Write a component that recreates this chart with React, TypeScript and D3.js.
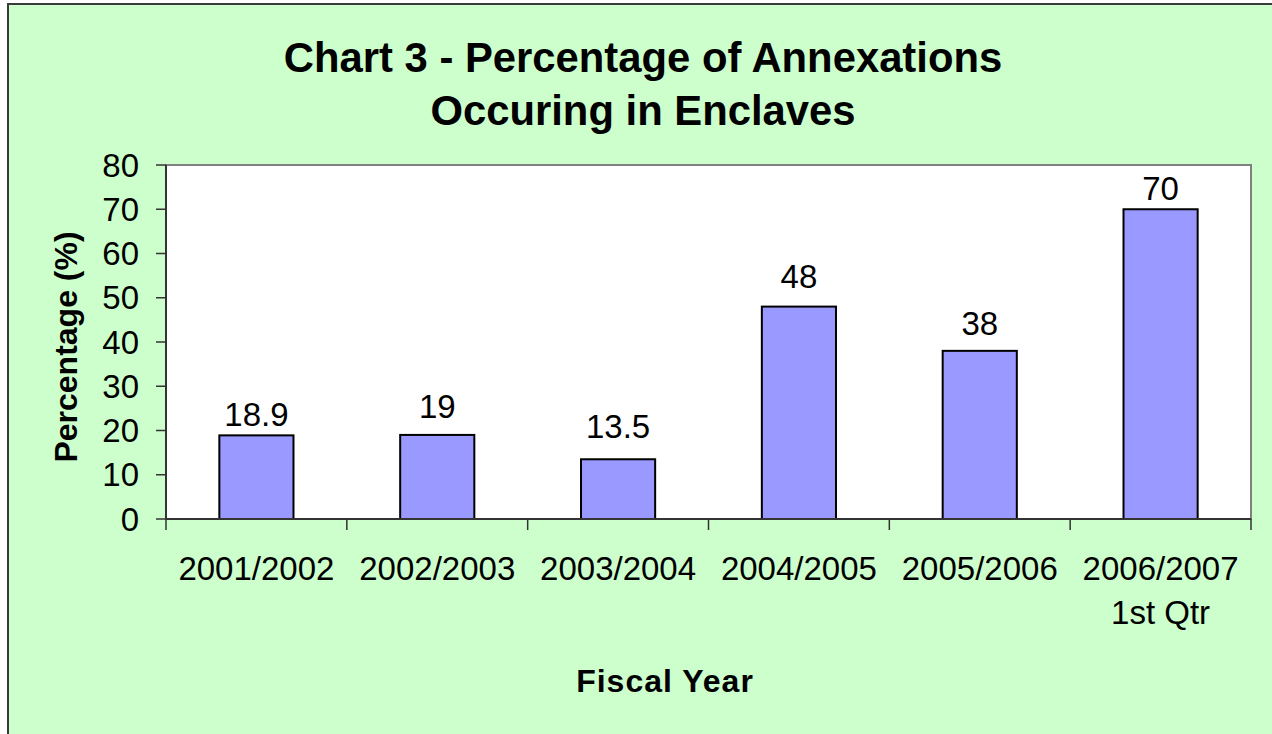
import React from "react";
import * as d3 from "d3";

const categories: string[][] = [
  ["2001/2002"],
  ["2002/2003"],
  ["2003/2004"],
  ["2004/2005"],
  ["2005/2006"],
  ["2006/2007", "1st Qtr"],
];
const values: number[] = [18.9, 19, 13.5, 48, 38, 70];
const valueLabels: string[] = ["18.9", "19", "13.5", "48", "38", "70"];
const yTicks: number[] = [0, 10, 20, 30, 40, 50, 60, 70, 80];
const titleLines: string[] = ["Chart 3 - Percentage of Annexations", "Occuring in Enclaves"];
const yTitle = "Percentage (%)";
const xTitle = "Fiscal Year";

// layout: gap between each data label baseline and its bar top (px)
const labelGaps: number[] = [9, 17, 21, 19, 16, 9];

const W = 1272;
const H = 734;
const plot = { left: 166, right: 1251, top: 165, bottom: 519 };
const FONT = "'Liberation Sans', Arial, sans-serif";

export default function App() {
  const keys = categories.map((c) => c.join(" "));
  const x = d3.scaleBand<string>().domain(keys).range([plot.left, plot.right]).padding(0);
  const y = d3.scaleLinear().domain([0, 80]).range([plot.bottom, plot.top]);
  const barW = x.bandwidth() * 0.41;
  const boundaries = [...keys.map((k) => x(k) as number), plot.right];

  return (
    <svg
      width={W}
      height={H}
      style={{ position: "absolute", left: 0, top: 0, display: "block" }}
      fontFamily={FONT}
    >
      <rect x={8} y={4} width={W + 20} height={H + 20} fill="#CCFFCC" stroke="#3a3a3a" strokeWidth={2} />
      {titleLines.map((t, i) => (
        <text
          key={i}
          x={643}
          y={72 + i * 53}
          textAnchor="middle"
          fontSize={41.8}
          fontWeight="bold"
          fill="#000"
        >
          {t}
        </text>
      ))}
      <rect
        x={plot.left}
        y={plot.top}
        width={plot.right - plot.left}
        height={plot.bottom - plot.top}
        fill="#FFFFFF"
        stroke="#808080"
        strokeWidth={2}
      />
      {values.map((v, i) => {
        const cx = (x(keys[i]) as number) + x.bandwidth() / 2;
        return (
          <g key={i}>
            <rect
              x={cx - barW / 2}
              y={y(v)}
              width={barW}
              height={y(0) - y(v)}
              fill="#9999FF"
              stroke="#000"
              strokeWidth={2}
            />
            <text x={cx} y={y(v) - labelGaps[i]} textAnchor="middle" fontSize={33} fill="#000">
              {valueLabels[i]}
            </text>
          </g>
        );
      })}
      {/* y axis */}
      <line x1={plot.left} x2={plot.left} y1={plot.top} y2={plot.bottom} stroke="#333" strokeWidth={2} />
      {yTicks.map((t) => (
        <g key={t}>
          <line x1={plot.left - 10} x2={plot.left} y1={y(t)} y2={y(t)} stroke="#333" strokeWidth={1.5} />
          <text x={139} y={y(t)} dy="0.35em" textAnchor="end" fontSize={33} fill="#000">
            {t}
          </text>
        </g>
      ))}
      {/* x axis */}
      <line x1={plot.left} x2={plot.right} y1={plot.bottom} y2={plot.bottom} stroke="#333" strokeWidth={2} />
      {boundaries.map((b, i) => (
        <line key={i} x1={b} x2={b} y1={plot.bottom} y2={plot.bottom + 11} stroke="#333" strokeWidth={1.5} />
      ))}
      {categories.map((c, i) => {
        const cx = (x(keys[i]) as number) + x.bandwidth() / 2;
        return (
          <text key={i} x={cx} y={580} textAnchor="middle" fontSize={33} fill="#000">
            {c.map((line, j) => (
              <tspan key={j} x={cx} y={580 + j * 44}>
                {line}
              </tspan>
            ))}
          </text>
        );
      })}
      <text
        transform={`translate(77, 347) rotate(-90)`}
        textAnchor="middle"
        fontSize={32}
        fontWeight="bold"
        fill="#000"
      >
        {yTitle}
      </text>
      <text x={665} y={692} textAnchor="middle" fontSize={32} fontWeight="bold" fill="#000" letterSpacing={1}>
        {xTitle}
      </text>
    </svg>
  );
}
